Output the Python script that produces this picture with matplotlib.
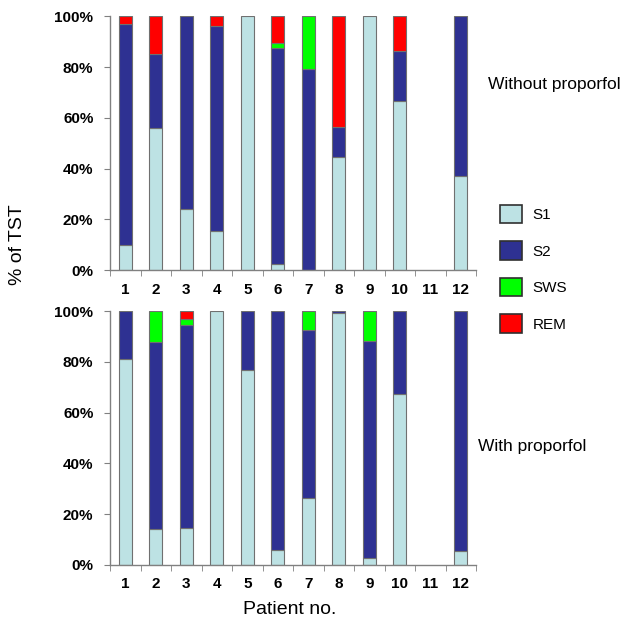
# Sleep stage composition per patient, with and without propofol

import numpy as np
import matplotlib.pyplot as plt
import matplotlib.ticker as tck
from matplotlib.patches import Patch

plt.rcParams['font.family'] = ['Liberation Sans', 'DejaVu Sans']

patients = [str(i) for i in range(1, 13)]
stages = ['S1', 'S2', 'SWS', 'REM']
stage_colors = ['#bde2e4', '#2e3192', '#00ff00', '#ff0000']

# % of total sleep time, without propofol (patient 11 has no data)
without_s1 = [10, 56, 24, 15.5, 100, 2.6, 0, 44.6, 100, 66.7, 0, 37]
without_s2 = [87, 29.3, 76, 80.8, 0, 84.7, 79.1, 11.6, 0, 19.6, 0, 63]
without_sws = [0, 0, 0, 0, 0, 2.2, 20.9, 0, 0, 0, 0, 0]
without_rem = [3, 14.7, 0, 3.7, 0, 10.5, 0, 43.8, 0, 13.7, 0, 0]

# % of total sleep time, with propofol
with_s1 = [81.1, 14, 14.4, 100, 76.9, 5.9, 26.5, 99.1, 2.9, 67.4, 0, 5.5]
with_s2 = [18.9, 73.9, 80.1, 0, 23.1, 94.1, 66, 0.9, 85.3, 32.6, 0, 94.5]
with_sws = [0, 12.1, 2.4, 0, 0, 0, 7.5, 0, 11.8, 0, 0, 0]
with_rem = [0, 0, 3.1, 0, 0, 0, 0, 0, 0, 0, 0, 0]

panels = [
    ('Without proporfol', [without_s1, without_s2, without_sws, without_rem]),
    ('With proporfol', [with_s1, with_s2, with_sws, with_rem]),
]

fig = plt.figure(figsize=(6.4, 6.24), dpi=100)
ax_top = fig.add_axes([0.172, 0.567, 0.572, 0.407])
ax_bot = fig.add_axes([0.172, 0.0946, 0.572, 0.407])

x = np.arange(1, 13)
for ax, (title, series) in zip([ax_top, ax_bot], panels):
    bottom = np.zeros(len(x))
    for vals, col in zip(series, stage_colors):
        vals = np.array(vals, dtype=float)
        mask = vals > 0
        ax.bar(x[mask], vals[mask], width=0.43, bottom=bottom[mask],
               color=col, edgecolor='#707070', linewidth=0.8)
        bottom += vals

    ax.set_xlim(0.5, 12.5)
    ax.set_ylim(0, 100)
    for s in ['top', 'right']:
        ax.spines[s].set_visible(False)
    for s in ['left', 'bottom']:
        ax.spines[s].set_color('#808080')
        ax.spines[s].set_linewidth(1.0)

    ax.set_yticks(np.arange(0, 101, 20))
    ax.yaxis.set_major_formatter(tck.FuncFormatter(lambda v, p: f'{int(v)}%'))
    ax.set_xticks(x)
    ax.set_xticklabels(patients)
    ax.xaxis.set_minor_locator(tck.FixedLocator(np.arange(0.5, 12.6, 1)))
    ax.tick_params(axis='x', which='major', length=0, pad=9)
    ax.tick_params(axis='x', which='minor', length=4, color='#808080', direction='out')
    ax.tick_params(axis='y', length=4, color='#808080', pad=8)
    for lab in ax.get_xticklabels() + ax.get_yticklabels():
        lab.set_fontweight('heavy')
        lab.set_fontsize(11)

fig.text(488 / 640, 1 - 84 / 624, 'Without proporfol', fontsize=12.5, va='center', ha='left')
fig.text(478 / 640, 1 - 447 / 624, 'With proporfol', fontsize=12.5, va='center', ha='left')

fig.text(17 / 640, 1 - 245 / 624, '% of TST', fontsize=14, rotation=90, va='center', ha='center')
fig.text(290 / 640, 1 - 610 / 624, 'Patient no.', fontsize=14, va='center', ha='center')

handles = [Patch(facecolor=c, edgecolor='#303030', linewidth=1.2) for c in stage_colors]
fig.legend(handles, stages, loc='upper left', bbox_to_anchor=(500 / 640, 1 - 205 / 624),
           frameon=False, fontsize=11, handlelength=1.45, handleheight=1.45,
           labelspacing=1.2, handletextpad=0.7, borderpad=0, borderaxespad=0)

plt.savefig('out.png', dpi=100)
